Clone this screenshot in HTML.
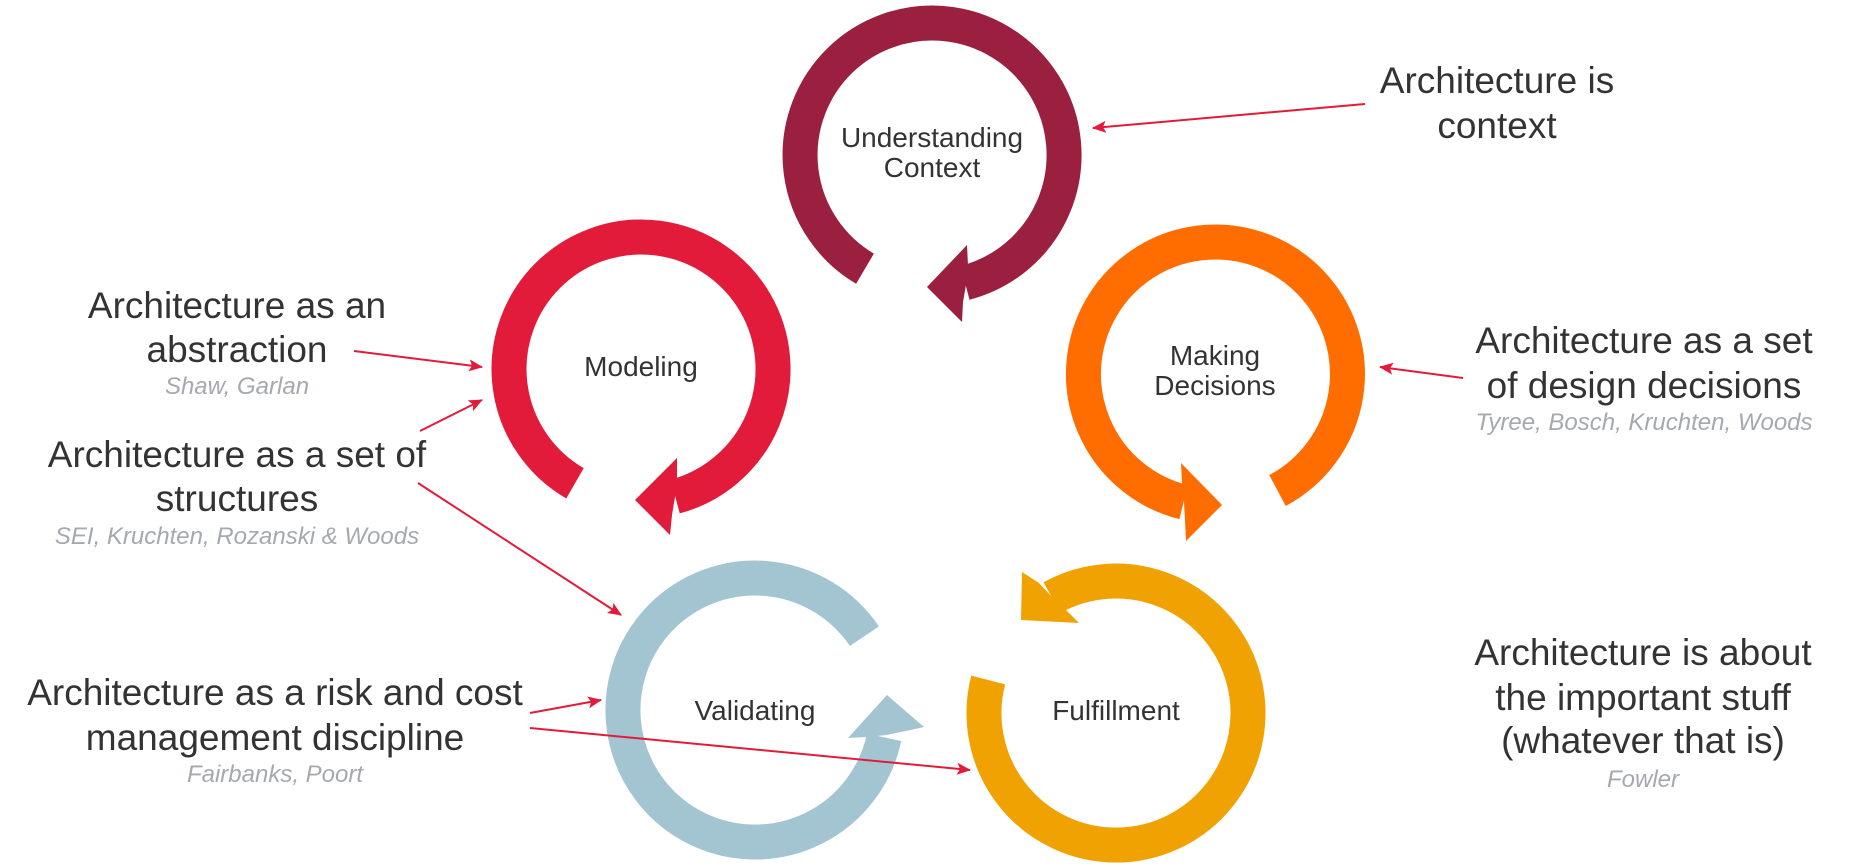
<!DOCTYPE html>
<html><head><meta charset="utf-8"><style>
html,body{margin:0;padding:0;background:#fff;}
svg{display:block;}
text{font-family:"Liberation Sans",Arial,sans-serif;}
.t{font-size:37px;fill:#333;text-anchor:middle;}
.c{font-size:24px;fill:#A5A9AE;font-style:italic;text-anchor:middle;}
.l{font-size:28px;fill:#333;text-anchor:middle;}
.ln{stroke:#E31B3A;stroke-width:2;fill:none;marker-end:url(#ah);}
</style></head><body>
<svg width="1849" height="867" viewBox="0 0 1849 867" xmlns="http://www.w3.org/2000/svg">
<defs>
<marker id="ah" markerWidth="14" markerHeight="12" refX="13" refY="6" orient="auto" markerUnits="userSpaceOnUse">
<path d="M0,0 L14,6 L0,12 L3,6 Z" fill="#E31B3A"/>
</marker>
</defs>

<!-- Understanding Context -->
<path d="M865,268.7 A132,132 0 1 1 965.1,282.8" stroke="#9B1F3E" stroke-width="35" fill="none"/>
<polygon points="967,245 968,265 966,285 963,302 962,322 927,287" fill="#9B1F3E"/>
<text class="l" x="932" y="147">Understanding</text>
<text class="l" x="932" y="177">Context</text>

<!-- Modeling -->
<path d="M575,483.3 A132,132 0 1 1 675.2,496.5" stroke="#E31B3A" stroke-width="35" fill="none"/>
<polygon points="677,458 677,477 675,497 672,515 670,535 635,500" fill="#E31B3A"/>
<text class="l" x="641" y="376">Modeling</text>

<!-- Making Decisions -->
<path d="M1277.5,490.5 A132,132 0 1 0 1183.6,502.1" stroke="#FF6D00" stroke-width="35" fill="none"/>
<polygon points="1181,463 1182,483 1184,502 1185,520 1186,541 1222,505" fill="#FF6D00"/>
<text class="l" x="1215" y="365">Making</text>
<text class="l" x="1215" y="395">Decisions</text>

<!-- Validating -->
<path d="M864.4,636.2 A132,132 0 1 0 884.1,737.4" stroke="#A3C4D1" stroke-width="35" fill="none"/>
<polygon points="887,695 924,727 906,731 886,735 867,737 848,738" fill="#A3C4D1"/>
<text class="l" x="755" y="720">Validating</text>

<!-- Fulfillment -->
<path d="M988.2,680 A132,132 0 1 0 1052,597.6" stroke="#F0A202" stroke-width="35" fill="none"/>
<polygon points="1022,572 1039,583 1052,597 1066,610 1079,623 1021,620" fill="#F0A202"/>
<text class="l" x="1116" y="720">Fulfillment</text>

<!-- Left texts -->
<text class="t" x="237" y="318">Architecture as an</text>
<text class="t" x="237" y="362">abstraction</text>
<text class="c" x="237" y="394">Shaw, Garlan</text>

<text class="t" x="237" y="467">Architecture as a set of</text>
<text class="t" x="237" y="511">structures</text>
<text class="c" x="237" y="544">SEI, Kruchten, Rozanski &amp; Woods</text>

<text class="t" x="275" y="705">Architecture as a risk and cost</text>
<text class="t" x="275" y="750">management discipline</text>
<text class="c" x="275" y="782">Fairbanks, Poort</text>

<!-- Right texts -->
<text class="t" x="1497" y="93">Architecture is</text>
<text class="t" x="1497" y="138">context</text>

<text class="t" x="1644" y="353">Architecture as a set</text>
<text class="t" x="1644" y="398">of design decisions</text>
<text class="c" x="1644" y="430">Tyree, Bosch, Kruchten, Woods</text>

<text class="t" x="1643" y="665">Architecture is about</text>
<text class="t" x="1643" y="710">the important stuff</text>
<text class="t" x="1643" y="753">(whatever that is)</text>
<text class="c" x="1643" y="787">Fowler</text>

<!-- connectors -->
<line class="ln" x1="354" y1="351" x2="482" y2="367"/>
<line class="ln" x1="420" y1="431" x2="482" y2="400"/>
<line class="ln" x1="418" y1="483" x2="621" y2="615"/>
<line class="ln" x1="530" y1="713" x2="601" y2="700"/>
<line class="ln" x1="530" y1="728" x2="970" y2="770"/>
<line class="ln" x1="1365" y1="104" x2="1093" y2="128"/>
<line class="ln" x1="1463" y1="378" x2="1380" y2="367"/>
</svg>
</body></html>
